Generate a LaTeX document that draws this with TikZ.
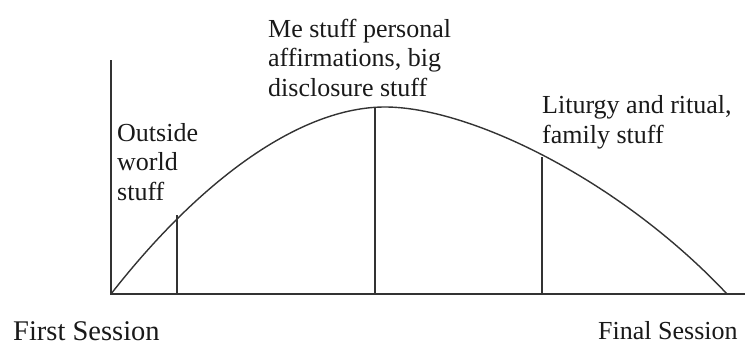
\documentclass[tikz,border=0pt]{standalone}
\usepackage{fontspec}
\setmainfont{Liberation Serif}
\begin{document}
\begin{tikzpicture}[x=1pt,y=-1pt,
  axis/.style={line width=1.7pt,draw=black!80},
  curve/.style={line width=1.4pt,draw=black!80},
  lbl/.style={inner sep=0pt,anchor=base west,align=left,font=\fontsize{26}{29.5}\selectfont,text=black!90}]
\useasboundingbox (0,0) rectangle (746,345);
\coordinate (O) at (111,294);
\coordinate (Ytop) at (111,60);
\coordinate (Xend) at (745,294);
\coordinate (P) at (385,107);
\coordinate (E) at (727,294);
\draw[axis] (Ytop) -- (O) -- (Xend);
\draw[curve] (O) .. controls (200,180) and (300,107) .. (P) .. controls (470,107) and (620,180) .. (E);
\coordinate (t1) at (177,215); \coordinate (b1) at (177,294);
\coordinate (t2) at (375,107); \coordinate (b2) at (375,294);
\coordinate (t3) at (542,157); \coordinate (b3) at (542,294);
\draw[axis] (t1) -- (b1);
\draw[axis] (t2) -- (b2);
\draw[axis] (t3) -- (b3);
\node[lbl] (outside) at (117,200) {Outside\\world\\stuff};
\node[lbl] (me) at (268,96) {Me stuff personal\\affirmations, big\\disclosure stuff};
\node[lbl] (lit) at (542,143) {Liturgy and ritual,\\family stuff};
\node[lbl,font=\fontsize{28.5}{33}\selectfont] (first) at (13,340) {First Session};
\node[lbl,font=\fontsize{26}{29}\selectfont] (final) at (598,339) {Final Session};
\end{tikzpicture}
\end{document}
